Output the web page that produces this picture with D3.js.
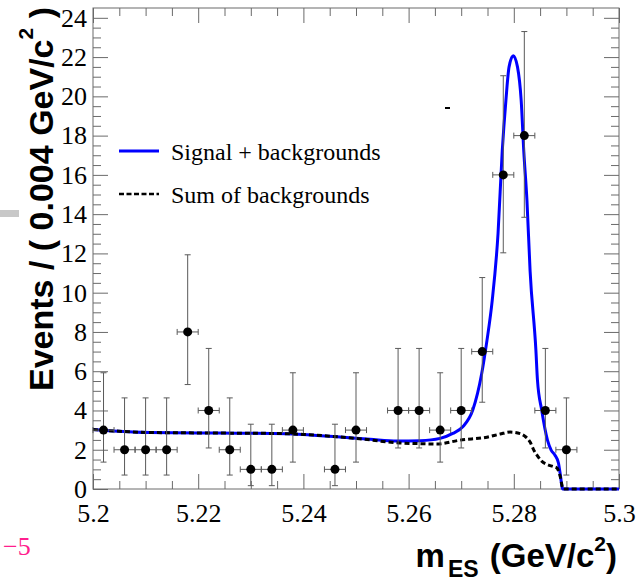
<!DOCTYPE html>
<html>
<head>
<meta charset="utf-8">
<script src="https://cdn.jsdelivr.net/npm/d3@7"></script>
<style>
  body { margin: 0; background: #fff; }
  svg text { fill: #000; }
</style>
</head>
<body>
<svg id="chart" width="639" height="583"></svg>
<script>
// Binned data: bin centres (GeV/c^2), event counts and the asymmetric (Poisson) error bounds
const binCenters = [5.202, 5.206, 5.210, 5.214, 5.218, 5.222, 5.226, 5.230, 5.234, 5.238,
                    5.246, 5.250, 5.258, 5.262, 5.266, 5.270, 5.274, 5.278, 5.282, 5.286, 5.290];
const counts     = [3, 2, 2, 2, 8, 4, 2, 1, 1, 3, 1, 3, 4, 4, 3, 4, 7, 16, 18, 4, 2];
const lowerBound = [1.37, 0.71, 0.71, 0.71, 5.32, 2.09, 0.71, 0.17, 0.17, 1.37,
                    0.17, 1.37, 2.09, 2.09, 1.37, 2.09, 4.42, 12.03, 13.84, 2.09, 0.71];
const upperBound = [5.92, 4.64, 4.64, 4.64, 11.93, 7.16, 4.64, 3.30, 3.30, 5.92,
                    3.30, 5.92, 7.16, 7.16, 5.92, 7.16, 10.77, 21.05, 23.30, 7.16, 4.64];
const binHalfWidth = 0.002;

// Fit projection: signal + backgrounds
const totalX = [5.2000, 5.2038, 5.2108, 5.2234, 5.2342, 5.2399, 5.2464, 5.2527, 5.2578, 5.2622,
                5.2660, 5.2684, 5.2703, 5.2722, 5.2739, 5.2749, 5.2759, 5.2770, 5.2778, 5.2785,
                5.2791, 5.2799, 5.2807, 5.2814, 5.2819, 5.2825, 5.2831, 5.2842, 5.2845, 5.2853,
                5.2864, 5.2871, 5.2878, 5.2885, 5.2888, 5.2893, 5.3000];
const totalY = [3.03, 2.96, 2.88, 2.85, 2.83, 2.78, 2.66, 2.53, 2.44, 2.46,
                2.58, 2.83, 3.17, 4.02, 5.88, 7.57, 9.61, 13.0, 17.2, 19.8,
                21.5, 22.07, 21.5, 19.8, 17.2, 14.7, 11.1, 7.07, 5.54, 4.02,
                2.49, 1.98, 1.73, 1.31, 0.81, 0.0, 0.0];

// Fit projection: sum of backgrounds
const bkgX = [5.2000, 5.2038, 5.2108, 5.2234, 5.2342, 5.2399, 5.2464, 5.2527, 5.2578, 5.2622,
              5.2654, 5.2698, 5.2749, 5.2774, 5.2793, 5.2812, 5.2821, 5.2831, 5.2838, 5.2844,
              5.2853, 5.2863, 5.2875, 5.2882, 5.2888, 5.2894, 5.3000];
const bkgY = [3.03, 2.96, 2.88, 2.85, 2.83, 2.78, 2.66, 2.50, 2.35, 2.31,
              2.29, 2.49, 2.64, 2.80, 2.90, 2.82, 2.69, 2.39, 1.98, 1.73,
              1.42, 1.25, 1.14, 1.07, 0.66, 0.0, 0.0];

const xMajorTicks = [5.2, 5.22, 5.24, 5.26, 5.28, 5.3];
const yMajorTicks = [0, 2, 4, 6, 8, 10, 12, 14, 16, 18, 20, 22, 24];
const legendLabels = ["Signal + backgrounds", "Sum of backgrounds"];

const svg = d3.select("#chart");
const plotL = 93, plotR = 619, plotT = 8, plotB = 489;

const x = d3.scaleLinear().domain([5.2, 5.3]).range([plotL, plotR]);
const y = d3.scaleLinear().domain([0, 24.5]).range([plotB, plotT]);

const xMinorTicks = d3.range(5.2, 5.3001, 0.005).map(v => +v.toFixed(3))
  .filter(v => !xMajorTicks.some(m => Math.abs(m - v) < 1e-6));
const yMinorTicks = d3.range(0, 24.01, 0.5)
  .filter(v => !yMajorTicks.includes(v));

const serif = "'Liberation Serif', 'Times New Roman', serif";
const sans = "'Liberation Sans', Arial, Helvetica, sans-serif";
const axisColor = "#6a6a6a";

function styleAxis(g) {
  g.select(".domain").remove();
  g.selectAll(".tick line").attr("stroke", axisColor).attr("stroke-width", 1);
  g.selectAll(".tick text").attr("font-family", serif).attr("font-size", 26).attr("fill", "#000");
}

// Bottom axis (labelled) and its minor ticks
svg.append("g").attr("transform", `translate(0,${plotB})`)
  .call(d3.axisBottom(x).tickValues(xMajorTicks).tickSize(-15).tickPadding(15)
    .tickFormat(d => String(+d.toFixed(2))))
  .call(styleAxis);
svg.append("g").attr("transform", `translate(0,${plotB})`)
  .call(d3.axisBottom(x).tickValues(xMinorTicks).tickSize(-8).tickFormat(""))
  .call(styleAxis);
// Top axis, ticks only
svg.append("g").attr("transform", `translate(0,${plotT})`)
  .call(d3.axisTop(x).tickValues(xMajorTicks).tickSize(-15).tickFormat(""))
  .call(styleAxis);
svg.append("g").attr("transform", `translate(0,${plotT})`)
  .call(d3.axisTop(x).tickValues(xMinorTicks).tickSize(-8).tickFormat(""))
  .call(styleAxis);

// Left axis (labelled) and its minor ticks
svg.append("g").attr("transform", `translate(${plotL},0)`)
  .call(d3.axisLeft(y).tickValues(yMajorTicks).tickSize(-15).tickPadding(6))
  .call(styleAxis);
svg.append("g").attr("transform", `translate(${plotL},0)`)
  .call(d3.axisLeft(y).tickValues(yMinorTicks).tickSize(-8).tickFormat(""))
  .call(styleAxis);
// Right axis, ticks only
svg.append("g").attr("transform", `translate(${plotR},0)`)
  .call(d3.axisRight(y).tickValues(yMajorTicks).tickSize(-15).tickFormat(""))
  .call(styleAxis);
svg.append("g").attr("transform", `translate(${plotR},0)`)
  .call(d3.axisRight(y).tickValues(yMinorTicks).tickSize(-8).tickFormat(""))
  .call(styleAxis);

// Frame
svg.append("rect")
  .attr("x", plotL).attr("y", plotT)
  .attr("width", plotR - plotL).attr("height", plotB - plotT)
  .attr("fill", "none").attr("stroke", axisColor).attr("stroke-width", 1);

// Fit curves
const line = d3.line().x(d => x(d[0])).y(d => y(d[1])).curve(d3.curveMonotoneX);
svg.append("path")
  .datum(d3.zip(totalX, totalY))
  .attr("d", line)
  .attr("fill", "none").attr("stroke", "#0000ff").attr("stroke-width", 3);
svg.append("path")
  .datum(d3.zip(bkgX, bkgY))
  .attr("d", line)
  .attr("fill", "none").attr("stroke", "#000").attr("stroke-width", 3)
  .attr("stroke-dasharray", "5,3");

// Data points with error bars
const points = binCenters.map((c, i) => ({ c, n: counts[i], lo: lowerBound[i], hi: upperBound[i] }));
const pg = svg.append("g").selectAll("g").data(points).join("g");
const errColor = "#5a5a5a";
pg.append("line")
  .attr("x1", d => x(d.c)).attr("x2", d => x(d.c))
  .attr("y1", d => y(d.lo)).attr("y2", d => y(d.hi))
  .attr("stroke", errColor).attr("stroke-width", 1);
pg.append("line")
  .attr("x1", d => x(d.c - binHalfWidth)).attr("x2", d => x(d.c + binHalfWidth))
  .attr("y1", d => y(d.n)).attr("y2", d => y(d.n))
  .attr("stroke", errColor).attr("stroke-width", 1);
// end caps
["lo", "hi"].forEach(k => {
  pg.append("line")
    .attr("x1", d => x(d.c) - 3).attr("x2", d => x(d.c) + 3)
    .attr("y1", d => y(d[k])).attr("y2", d => y(d[k]))
    .attr("stroke", errColor).attr("stroke-width", 1);
});
[-1, 1].forEach(s => {
  pg.append("line")
    .attr("x1", d => x(d.c + s * binHalfWidth)).attr("x2", d => x(d.c + s * binHalfWidth))
    .attr("y1", d => y(d.n) - 3).attr("y2", d => y(d.n) + 3)
    .attr("stroke", errColor).attr("stroke-width", 1);
});
pg.append("circle")
  .attr("cx", d => x(d.c)).attr("cy", d => y(d.n)).attr("r", 4.5)
  .attr("fill", "#000");

// Legend
const legend = svg.append("g").selectAll("g").data(legendLabels).join("g")
  .attr("transform", (d, i) => `translate(119,${151 + i * 43})`);
legend.append("line")
  .attr("x1", 0).attr("x2", 40).attr("y1", 0).attr("y2", 0)
  .attr("stroke", (d, i) => i === 0 ? "#0000ff" : "#000")
  .attr("stroke-width", (d, i) => i === 0 ? 3 : 2.5)
  .attr("stroke-dasharray", (d, i) => i === 0 ? null : "5,2.5");
legend.append("text")
  .attr("x", 52).attr("y", 9)
  .attr("font-family", serif).attr("font-size", 24)
  .text(d => d);

// Axis titles
const xt = svg.append("text")
  .attr("x", 617).attr("y", 567)
  .attr("text-anchor", "end")
  .attr("font-family", sans).attr("font-weight", "bold").attr("font-size", 33);
xt.append("tspan").text("m");
xt.append("tspan").attr("dx", 3).attr("dy", 10).attr("font-size", 23).text("ES");
xt.append("tspan").attr("dx", 2).attr("dy", -10).text(" (GeV/c");
xt.append("tspan").attr("dy", -16).attr("font-size", 21).text("2");
xt.append("tspan").attr("dy", 16).text(")");

const yt = svg.append("text")
  .attr("transform", "translate(53,7) rotate(-90)")
  .attr("text-anchor", "end")
  .attr("font-family", sans).attr("font-weight", "bold").attr("font-size", 34);
yt.append("tspan").text("Events / ( 0.004 GeV/c");
yt.append("tspan").attr("dy", -20).attr("font-size", 21).text("2");
yt.append("tspan").attr("dy", 20).text(" )");

// Stray marks at the page edges
svg.append("rect").attr("x", 0).attr("y", 210).attr("width", 19).attr("height", 7).attr("fill", "#c8c8c8");
svg.append("rect").attr("x", 445).attr("y", 107).attr("width", 5).attr("height", 2).attr("fill", "#000");
svg.append("text")
  .attr("x", 3).attr("y", 555)
  .attr("font-family", serif).attr("font-size", 26)
  .style("fill", "#ff1f8e")
  .text("\u22125");
</script>
</body>
</html>
